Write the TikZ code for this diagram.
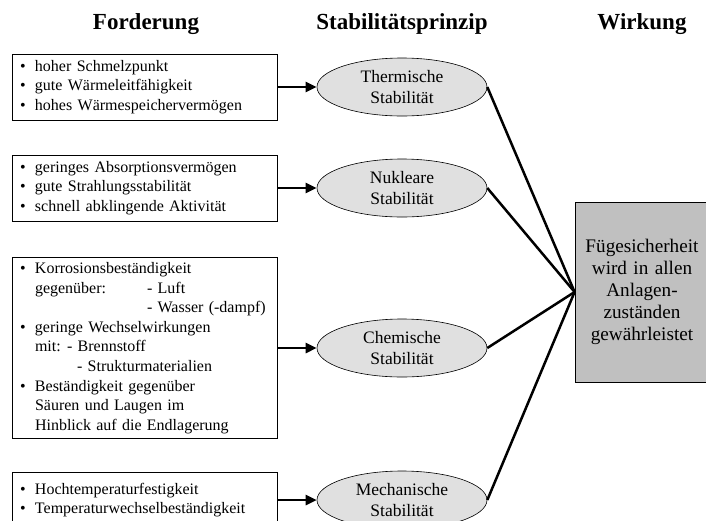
\documentclass[tikz,border=0pt]{standalone}
\usepackage{fontspec}
\setmainfont{Liberation Serif}
\usetikzlibrary{shapes.geometric,arrows.meta}
\definecolor{ellgray}{HTML}{E0E0E0}
\definecolor{boxgray}{HTML}{C0C0C0}
\begin{document}
\begin{tikzpicture}[x=1pt,y=-1pt,
  reqbox/.style={draw=black, line width=0.8pt, fill=white, minimum width=265pt,
    text width=249pt, inner xsep=8pt, inner ysep=2pt, align=left,
    font=\fontsize{16}{19.6}\selectfont},
  principle/.style={ellipse, draw=black, line width=0.6pt, fill=ellgray,
    minimum width=170pt, minimum height=58pt, inner sep=0pt, align=center,
    font=\fontsize{17.5}{21.5}\selectfont},
  effect/.style={draw=black, line width=0.8pt, fill=boxgray, minimum width=134pt,
    minimum height=180pt, text width=126pt, inner sep=4pt, align=center,
    font=\fontsize{19.2}{22}\selectfont},
  feed/.style={line width=2.5pt, -{Triangle[length=11pt,width=10pt]}},
  link/.style={line width=2.5pt},
  head/.style={font=\fontsize{23}{27}\selectfont\bfseries, anchor=base}
]
\clip (0,0) rectangle (706,520);
\fill[white] (0,0) rectangle (706,520);
\newcommand{\bul}{\makebox[15pt][l]{•}}
\newcommand{\ind}{\hspace*{15pt}}

% headers
\node[head] (h1) at (146,29) {Forderung};
\node[head] (h2) at (402,29) {Stabilitätsprinzip};
\node[head] (h3) at (642,29) {Wirkung};

% requirement boxes
\node[reqbox, minimum height=66pt] (r1) at (144.5,87) {%
\bul hoher Schmelzpunkt\\
\bul gute Wärmeleitfähigkeit\\
\bul hohes Wärmespeichervermögen};

\node[reqbox, minimum height=66pt] (r2) at (144.5,188) {%
\bul geringes Absorptionsvermögen\\
\bul gute Strahlungsstabilität\\
\bul schnell abklingende Aktivität};

\node[reqbox, minimum height=181pt] (r3) at (144.5,348) {%
\bul Korrosionsbeständigkeit\\
\ind\makebox[112pt][l]{gegenüber:}- Luft\\
\hspace*{127pt}- Wasser (-dampf)\\
\bul geringe Wechselwirkungen\\
\ind\makebox[32pt][l]{mit:}- Brennstoff\\
\hspace*{57pt}- Strukturmaterialien\\
\bul Beständigkeit gegenüber\\
\ind Säuren und Laugen im\\
\ind Hinblick auf die Endlagerung};

\node[reqbox, minimum height=56pt] (r4) at (144.5,500) {%
\bul Hochtemperaturfestigkeit\\
\bul Temperaturwechselbeständigkeit};

% principles
\node[principle] (p1) at (402,87) {Thermische\\Stabilität};
\node[principle] (p2) at (402,188) {Nukleare\\Stabilität};
\node[principle] (p3) at (402,348) {Chemische\\Stabilität};
\node[principle] (p4) at (402,500) {Mechanische\\Stabilität};

% effect
\node[effect] (w) at (642,292) {Fügesicherheit\\wird in allen\\Anlagen-\\zuständen\\gewährleistet};

% arrows
\draw[feed] (r1.east) -- (p1.west);
\draw[feed] (r2.east) -- (p2.west);
\draw[feed] (r3.east) -- (p3.west);
\draw[feed] (r4.east) -- (p4.west);

% links
\draw[link] (p1.east) -- (w.west);
\draw[link] (p2.east) -- (w.west);
\draw[link] (p3.east) -- (w.west);
\draw[link] (p4.east) -- (w.west);
\end{tikzpicture}
\end{document}
